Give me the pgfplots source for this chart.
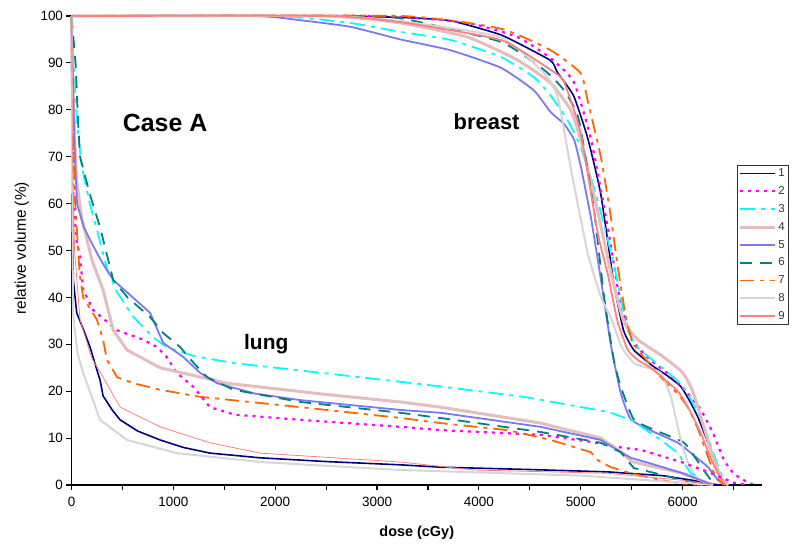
\documentclass[border=0pt]{standalone}
\usepackage{fontspec}
\setmainfont{Liberation Sans}
\usepackage{pgfplots}
\pgfplotsset{compat=1.18}
\definecolor{c1}{RGB}{0,0,128}
\definecolor{c2}{RGB}{255,0,255}
\definecolor{c3}{RGB}{0,255,255}
\definecolor{c4}{RGB}{228,190,190}
\definecolor{c5}{RGB}{122,122,240}
\definecolor{c6}{RGB}{0,128,128}
\definecolor{c7}{RGB}{255,102,0}
\definecolor{c8}{RGB}{214,214,214}
\definecolor{c9}{RGB}{255,128,128}
\pgfplotsset{
 s1/.style={c1, line width=1.6bp},
 s2/.style={c2, line width=2.2bp, dash pattern=on 3bp off 5bp},
 s3/.style={c3, line width=1.8bp, dash pattern=on 15bp off 6bp on 4bp off 6bp},
 s4/.style={c4, line width=3bp},
 s5/.style={c5, line width=1.8bp},
 s6/.style={c6, line width=1.8bp, dash pattern=on 12bp off 8bp},
 s7/.style={c7, line width=1.8bp, dash pattern=on 14bp off 6bp on 4bp off 6bp},
 s8/.style={c8, line width=2bp},
 s9/.style={c9, line width=1.8bp},
 br/.style={smooth, tension=0.3, legend image code/.code={\draw[##1] (0bp,0bp) -- (34.5bp,0bp);}},
}
\begin{document}
\begin{tikzpicture}
\begin{axis}[
 at={(0,0)}, anchor=south west,
 scale only axis, width=690.5bp, height=469bp,
 xmin=0, xmax=6780, ymin=0, ymax=100,
 enlargelimits=false, clip=false,
 axis x line*=bottom, axis y line*=left,
 axis line style={line width=1.3bp, black, -},
 xtick={0,500,...,6500},
 xticklabels={0,,1000,,2000,,3000,,4000,,5000,,6000,},
 ytick={0,10,...,100},
 tick align=outside, major tick length=5bp,
 tick style={line width=1.2bp, black},
 tick label style={font=\fontsize{13.5}{16}\selectfont},
 xticklabel style={yshift=-4bp},
 /pgf/number format/assume math mode=true,
 xlabel={\bfseries dose (cGy)},
 xlabel style={at={(axis description cs:0.5,0)}, anchor=base, yshift=-51bp, font=\fontsize{14.5}{17}\selectfont},
 ylabel={relative volume (\%)},
 ylabel style={at={(axis description cs:-0.0659,0.505)}, anchor=base, font=\fontsize{15.5}{18}\selectfont},
 no markers,
 every axis plot/.append style={line join=round},
 legend style={at={(axis description cs:0.9638,0.6823)}, anchor=north west,
   draw=black!80, fill=white, line width=0.7bp, font=\fontsize{11.5}{13}\selectfont, text=black!80,
   inner sep=1.5bp, row sep=4.4bp},
 legend cell align=left,
]
% breast
\addplot[s1, br] coordinates {(0,100) (2500,100) (3230,99.7) (3720,99) (4213,96) (4537,92.5) (4705,90.5) (4740,89.5) (4770,88) (4930,83) (5068,74) (5197,62) (5325,43) (5420,33) (5521,28.8) (5700,25.5) (5850,23.3) (5983,21) (6080,17.5) (6150,14.5) (6250,9) (6347,3.2) (6420,0.3) (6500,0)};
\addlegendentry{1}
\addplot[s2, br] coordinates {(0,100) (3000,100) (3890,98.5) (4380,95.5) (4705,91) (4930,86) (5098,74) (5265,55) (5380,40) (5500,31) (5688,26.6) (5900,23) (6050,19.5) (6180,16) (6300,11) (6407,5.3) (6500,2.5) (6603,1) (6700,0)};
\addlegendentry{2}
\addplot[s3, br] coordinates {(0,100) (2000,100) (2738,98.5) (3230,96.6) (3720,94.9) (4213,91.3) (4537,87) (4705,83) (4870,77.8) (5000,72) (5150,62) (5325,47) (5450,34) (5550,29.5) (5800,25) (5960,22) (6050,19.6) (6200,13) (6300,7) (6376,2.5) (6450,0)};
\addlegendentry{3}
\addplot[s4, br] coordinates {(0,100) (2500,100) (3230,98.5) (3890,95.5) (4380,90.6) (4705,85.7) (4900,80) (5000,73.6) (5150,60) (5300,45) (5420,35) (5560,31) (5800,27.5) (6000,24) (6100,20) (6200,13) (6300,6) (6380,1.5) (6450,0)};
\addlegendentry{4}
\addplot[s5, br] coordinates {(0,100) (1800,100) (2247,99.1) (2738,97.7) (3230,95) (3720,92.7) (4213,89) (4537,84.2) (4705,79.5) (4835,77) (4935,73.6) (5000,68) (5100,57) (5197,44) (5295,30) (5393,19.6) (5492,14) (5700,11.5) (5954,9) (6100,6.5) (6250,3.8) (6350,1) (6420,0)};
\addlegendentry{5}
\addplot[s6, br] coordinates {(0,100) (2500,100) (3230,99.5) (4213,94.5) (4640,88.5) (4835,84.2) (4980,78) (5128,59) (5230,40) (5325,26.6) (5393,21) (5521,14) (5750,11.5) (6015,9) (6150,5) (6280,1) (6350,0)};
\addlegendentry{6}
\addplot[s7, br] coordinates {(0,100) (3230,100) (4213,97.3) (4705,92.7) (5000,87.8) (5068,82) (5197,70) (5290,58) (5364,46.5) (5450,35) (5521,30) (5650,26.5) (5786,23) (5950,19.5) (6050,16.6) (6150,12) (6250,6) (6310,2.5) (6400,0)};
\addlegendentry{7}
\addplot[s8, br] coordinates {(0,100) (2500,100) (3230,98.9) (4213,95.5) (4640,87.8) (4775,82.7) (4900,67.8) (5068,49.5) (5200,40) (5295,35.8) (5400,29.5) (5521,26) (5650,25) (5786,23.9) (5885,18.8) (5983,9.6) (6050,5) (6110,2.5) (6200,0)};
\addlegendentry{8}
\addplot[s9, br] coordinates {(0,100) (2500,100) (3230,98.7) (4213,94.9) (4705,88.5) (4835,86) (5000,75) (5167,53.7) (5265,45) (5360,35) (5462,28.8) (5570,26.5) (5688,25) (5954,20) (6080,15.5) (6180,11) (6280,5.5) (6347,2.5) (6420,0)};
\addlegendentry{9}
% lung
\addplot[s1, forget plot] coordinates {(0,100) (5,80) (10,55) (18,43.7) (51,36.7) (120,33) (182,29.4) (250,24.5) (280,22.4) (310,19) (400,16) (477,13.9) (650,11.5) (870,9.6) (1100,8) (1360,6.8) (1851,5.8) (2500,5) (3230,4.3) (3623,3.8) (4500,3.3) (5265,2.8) (5800,2) (6100,1) (6350,0)};
\addplot[s2, forget plot] coordinates {(0,100) (10,75) (20,60) (50,52) (84,48.6) (115,41.6) (213,37.3) (447,33) (703,31) (840,29.4) (934,27.3) (1035,23.9) (1197,20.9) (1360,16.6) (1600,15) (2247,13.9) (3230,12.4) (3623,11.7) (4606,10.7) (5098,9.2) (5423,7.9) (5590,7.5) (6015,4.7) (6280,2.5) (6500,0.5) (6650,0)};
\addplot[s3, forget plot] coordinates {(0,100) (20,90) (40,82) (60,76) (100,68) (180,60) (250,54.4) (350,46) (450,41) (609,35.8) (800,31.5) (934,29.4) (1200,27.5) (1590,26) (2500,23.8) (3230,22) (3623,21) (4440,18.8) (5265,15.6) (5492,13.9) (5786,9.6) (5954,6.8) (6080,2.5) (6250,0)};
\addplot[s4, forget plot] coordinates {(0,100) (20,80) (50,65) (100,57) (200,48) (310,41.6) (410,33) (545,28.8) (870,25) (1525,21.7) (2500,19.3) (3230,17.7) (3623,16.6) (4606,13.2) (5197,10) (5400,7) (5500,5) (6000,2.5) (6300,0)};
\addplot[s5, forget plot] coordinates {(0,100) (15,85) (30,72) (54,60) (120,55) (200,51.5) (300,47.5) (410,43.7) (550,41) (772,36.7) (900,30.3) (1097,27.3) (1263,23.9) (1430,21.7) (1800,19.5) (2247,18.1) (3230,16) (3623,15.4) (4606,12.4) (5197,9.6) (5393,7) (5492,5.8) (5700,4.5) (6000,2.5) (6300,0)};
\addplot[s6, forget plot] coordinates {(0,100) (40,90) (64,77.8) (84,70) (180,62) (280,55) (410,43.7) (550,40) (772,35.8) (900,32.4) (1067,29.4) (1200,26) (1332,23) (1590,20.3) (2247,17.7) (3230,15.4) (3721,14) (4606,11.3) (5197,9) (5393,7) (5521,3.6) (5718,2.6) (6000,1) (6300,0)};
\addplot[s7, forget plot] coordinates {(0,100) (10,80) (35,60.8) (80,45) (115,40) (250,35.2) (310,31) (348,26.7) (447,23) (609,21.7) (870,20.3) (1263,18.8) (2247,16.6) (3230,14.3) (3623,13.2) (4282,11.7) (4705,9.6) (5098,7) (5167,5.3) (5295,3.8) (5492,2.5) (5800,1) (6000,0.3) (6200,0)};
\addplot[s8, forget plot] coordinates {(0,100) (5,70) (15,36.7) (60,28) (115,23.9) (280,13.9) (545,9.6) (1035,6.8) (1851,4.9) (3230,3.2) (5000,2) (6000,0.5) (6300,0)};
\addplot[s9, line width=0.8bp, forget plot] coordinates {(0,100) (10,70) (30,50) (84,35.2) (200,27) (310,23) (477,16.6) (870,12.4) (1360,9) (1851,6.8) (3230,4.9) (3950,3.2) (5265,2.5) (6000,1) (6300,0)};
\addplot[black, line width=2.6bp, forget plot] coordinates {(6650,0) (6780,0)};
\node[font=\bfseries\fontsize{25}{30}\selectfont, anchor=base] at (axis cs:919,75.3) {Case A};
\node[font=\bfseries\fontsize{22}{26}\selectfont, anchor=base] at (axis cs:4076,75.7) {breast};
\node[font=\bfseries\fontsize{21}{25}\selectfont, anchor=base] at (axis cs:1912,28.8) {lung};
\end{axis}
\path (-71.5bp,-65bp) rectangle (728.5bp,485bp);
\end{tikzpicture}
\end{document}
